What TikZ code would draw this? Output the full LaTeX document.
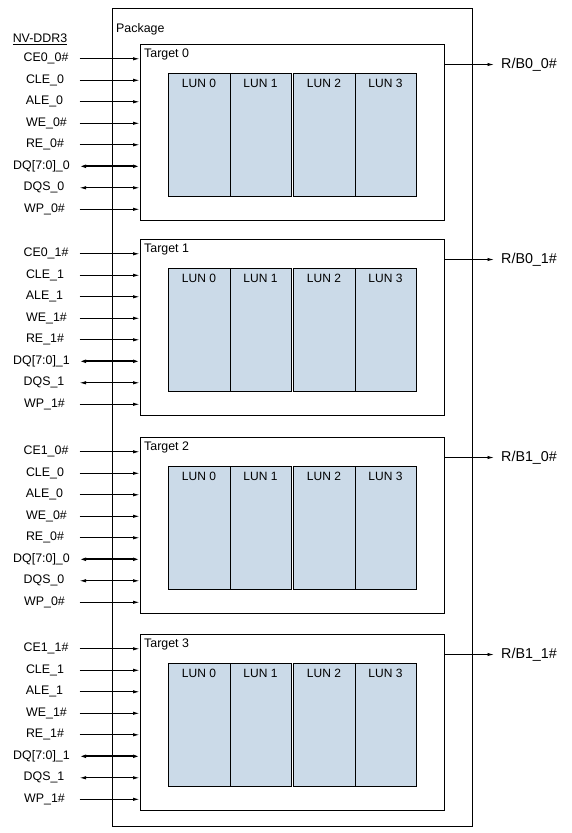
\documentclass[tikz,border=0pt]{standalone}
\usepackage{fontspec}
\setmainfont{Liberation Sans}
\usetikzlibrary{arrows.meta}
\definecolor{lunfill}{RGB}{203,218,232}
\begin{document}
\begin{tikzpicture}[x=1pt,y=-1pt,
  box/.style={draw,line width=1pt},
  lunbox/.style={draw,line width=1pt,fill=lunfill},
  sig/.style={line width=0.9pt,-{Latex[length=6.5pt,width=3.4pt]}},
  bisig/.style={line width=0.9pt,{Latex[length=6.5pt,width=3.4pt]}-{Latex[length=6.5pt,width=3.4pt]}},
  bus/.style={line width=1.8pt,{Latex[length=6.5pt,width=3.8pt]}-{Latex[length=6.5pt,width=3.8pt]}},
  lbl/.style={font=\fontsize{12.4}{14}\selectfont,inner sep=0pt},
  lunlbl/.style={font=\fontsize{12}{13}\selectfont,inner sep=0pt},
  rblbl/.style={font=\fontsize{14.3}{16}\selectfont,inner sep=0pt,anchor=west}]
\useasboundingbox (0,0) rectangle (572,833);
% package
\node[box,minimum width=360.5pt,minimum height=818pt,inner sep=0pt,anchor=north west] (pkg) at (111.5,7.5) {};
\node[lbl,anchor=west] (pkglbl) at (116,29.5) {Package};
\node[lbl,anchor=center] (nv) at (40,39) {\underline{NV-DDR3}};
% targets
\foreach \k/\T/\ce/\s/\rb in {0/43.5/CE0\_0\#/0/R\slash B0\_0\#,
                              1/238.5/CE0\_1\#/1/R\slash B0\_1\#,
                              2/436.5/CE1\_0\#/0/R\slash B1\_0\#,
                              3/633.5/CE1\_1\#/1/R\slash B1\_1\#}{
  \node[box,minimum width=304pt,minimum height=176pt,inner sep=0pt,anchor=north west] (t\k) at (139.5,\T) {};
  \node[lbl,anchor=west] (tl\k) at (144,\T+11) {Target \k};
  % LUNs
  \node[lunbox,minimum width=62pt,minimum height=123pt,inner sep=0pt,anchor=north west] (l\k0) at (167.5,\T+29) {};
  \node[lunbox,minimum width=61pt,minimum height=123pt,inner sep=0pt,anchor=north west] (l\k1) at (229.5,\T+29) {};
  \node[lunbox,minimum width=62pt,minimum height=123pt,inner sep=0pt,anchor=north west] (l\k2) at (292.5,\T+29) {};
  \node[lunbox,minimum width=61pt,minimum height=123pt,inner sep=0pt,anchor=north west] (l\k3) at (354.5,\T+29) {};
  \foreach \j in {0,1,2,3}{
    \node[lunlbl] (ll\k\j) at ([yshift=-11pt]l\k\j.north) {LUN \j};
  }
  % signals
  \foreach \i/\name/\st/\xc in {0/\ce/sig/46,1/CLE\_\s/sig/45,2/ALE\_\s/sig/44.5,3/WE\_\s\#/sig/46.5,
                                4/RE\_\s\#/sig/45,5/DQ[7:0]\_\s/bus/41.5,6/DQS\_\s/bisig/44,7/WP\_\s\#/sig/44.5}{
    \node[lbl] (n\k\i) at (\xc,\T+15.3+21.5*\i) {\name};
    \coordinate (s\k\i) at (79.5,\T+15.3+21.5*\i);
    \draw[\st] (s\k\i) -- (t\k.west |- s\k\i);
  }
  % R/B
  \node[rblbl] (rb\k) at (501,\T+21) {\rb};
  \draw[sig] (t\k.east |- rb\k.west) -- ([xshift=-7pt]rb\k.west);
}
\end{tikzpicture}
\end{document}
